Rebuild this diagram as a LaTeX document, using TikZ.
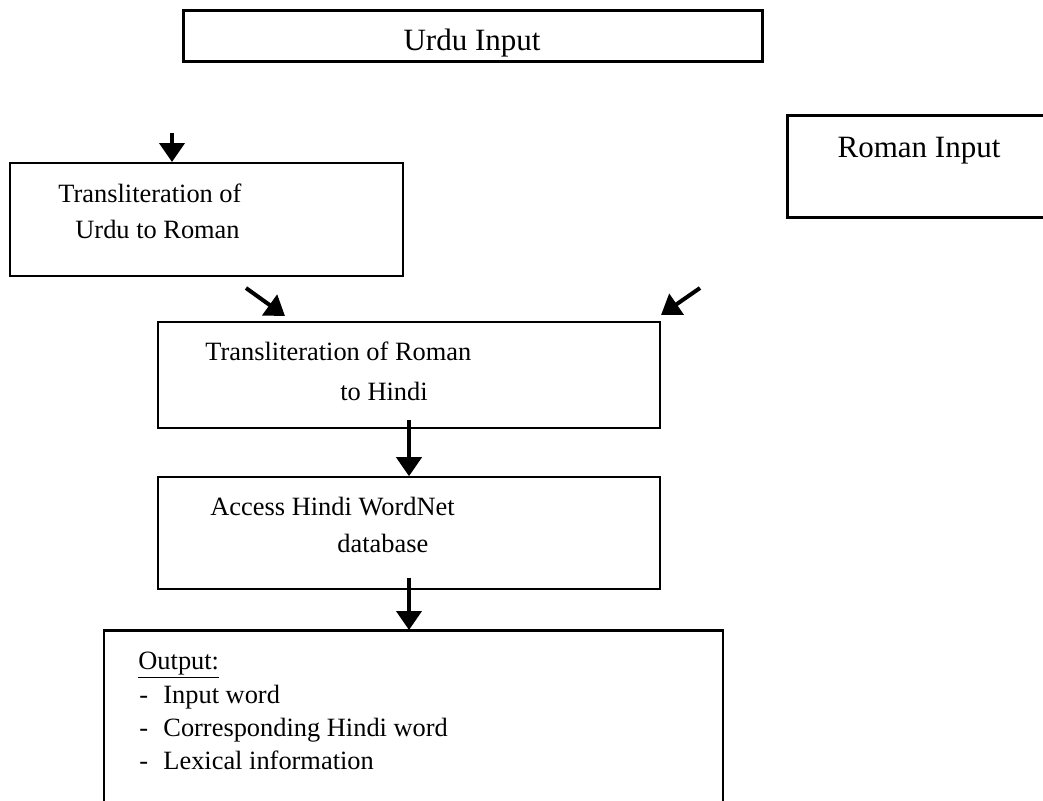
\documentclass[tikz,border=0pt]{standalone}
\usepackage{fontspec}
\setmainfont{Liberation Serif}
\usetikzlibrary{arrows.meta}
\begin{document}
\begin{tikzpicture}[x=0.5pt, y=-0.5pt,
    box/.style={draw, rectangle, inner sep=0pt, line width=0.8pt},
    inbox/.style={box, line width=1.5pt},
    txt/.style={anchor=base west, inner sep=0pt, font=\fontsize{13.2}{16}\selectfont},
    bigtxt/.style={anchor=base, inner sep=0pt, font=\fontsize{15.5}{18}\selectfont},
    flow/.style={-{Triangle[width=12.5pt,length=9.5pt]}, line width=2pt}]
            \clip (0,0) rectangle (1043,800);
            % boxes
            \node[inbox, minimum width=289.5pt, minimum height=25.5pt] (urdu) at (472.5, 35.5) {};
            \node[box, line width=1pt, minimum width=196.5pt, minimum height=56.5pt] (translit) at (206.5, 219.5) {};
            \node[inbox, minimum width=141.5pt, minimum height=51pt] (roman) at (928.5, 166) {};
            \node[box, minimum width=251pt, minimum height=53pt] (romhin) at (409, 375) {};
            \node[box, minimum width=251pt, minimum height=56pt] (wordnet) at (409, 533) {};
            \node[box, line width=1pt, minimum width=309.5pt, minimum height=99.5pt] (output) at (413.5, 730.5) {};
            \draw[line width=1.5pt] (output.north west) -- (output.north east);
            % texts
            \node[bigtxt] (urdutxt) at (472, 50) {Urdu Input};
            \node[bigtxt] (romantxt) at (919, 157) {Roman Input};
            \node[txt] (t1a) at (58, 202) {Transliteration of};
            \node[txt] (t1b) at (75, 238) {Urdu to Roman};
            \node[txt] (t2a) at (205, 360) {Transliteration of Roman};
            \node[txt] (t2b) at (340, 400) {to Hindi};
            \node[txt] (t3a) at (210, 515) {Access Hindi WordNet};
            \node[txt] (t3b) at (337, 552) {database};
            \node[txt] (out0) at (138, 669) {\underline{Output:}};
            \foreach \i/\t/\yy in {1/Input word/703, 2/Corresponding Hindi word/736, 3/Lexical information/769}
                \node[txt] (out\i) at (139, \yy) {\makebox[12pt][l]{-}\t};
            % arrows
            \coordinate (in1) at (172, 133);
            \coordinate (d1) at (246, 288);
            \coordinate (d1end) at (285, 316);
            \coordinate (d2) at (700, 288);
            \coordinate (d2end) at (661, 315);
            \draw[flow] (in1) -- (in1 |- translit.north);
            \draw[flow] (d1) -- (d1end);
            \draw[flow] (d2) -- (d2end);
            \draw[flow] ([yshift=4.5pt]romhin.south) -- (wordnet.north);
            \draw[flow] ([yshift=6pt]wordnet.south) -- (wordnet.south |- output.north);
\end{tikzpicture}
\end{document}
